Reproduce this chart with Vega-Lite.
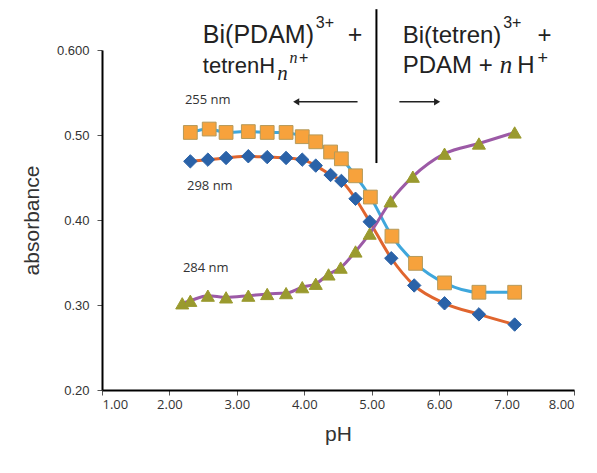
{
  "$schema": "https://vega.github.io/schema/vega-lite/v6.json",
  "width": 472,
  "height": 340,
  "autosize": {"type": "none"},
  "padding": {"left": 102, "top": 50, "right": 23, "bottom": 83},
  "background": "white",
  "config": {"view": {"stroke": null}, "font": "Liberation Sans"},
  "datasets": {
    "abs": [
      {"pH": 2.31, "A": 0.503, "s": "255 nm"},
      {"pH": 2.59, "A": 0.507, "s": "255 nm"},
      {"pH": 2.84, "A": 0.503, "s": "255 nm"},
      {"pH": 3.17, "A": 0.504, "s": "255 nm"},
      {"pH": 3.45, "A": 0.503, "s": "255 nm"},
      {"pH": 3.73, "A": 0.503, "s": "255 nm"},
      {"pH": 3.97, "A": 0.498, "s": "255 nm"},
      {"pH": 4.17, "A": 0.492, "s": "255 nm"},
      {"pH": 4.39, "A": 0.480, "s": "255 nm"},
      {"pH": 4.55, "A": 0.472, "s": "255 nm"},
      {"pH": 4.76, "A": 0.452, "s": "255 nm"},
      {"pH": 4.98, "A": 0.427, "s": "255 nm"},
      {"pH": 5.30, "A": 0.381, "s": "255 nm"},
      {"pH": 5.65, "A": 0.349, "s": "255 nm"},
      {"pH": 6.08, "A": 0.326, "s": "255 nm"},
      {"pH": 6.59, "A": 0.315, "s": "255 nm"},
      {"pH": 7.12, "A": 0.315, "s": "255 nm"},
      {"pH": 2.31, "A": 0.469, "s": "298 nm"},
      {"pH": 2.57, "A": 0.471, "s": "298 nm"},
      {"pH": 2.84, "A": 0.473, "s": "298 nm"},
      {"pH": 3.17, "A": 0.475, "s": "298 nm"},
      {"pH": 3.45, "A": 0.474, "s": "298 nm"},
      {"pH": 3.73, "A": 0.473, "s": "298 nm"},
      {"pH": 3.97, "A": 0.471, "s": "298 nm"},
      {"pH": 4.17, "A": 0.464, "s": "298 nm"},
      {"pH": 4.39, "A": 0.453, "s": "298 nm"},
      {"pH": 4.55, "A": 0.446, "s": "298 nm"},
      {"pH": 4.76, "A": 0.425, "s": "298 nm"},
      {"pH": 4.97, "A": 0.398, "s": "298 nm"},
      {"pH": 5.29, "A": 0.355, "s": "298 nm"},
      {"pH": 5.63, "A": 0.323, "s": "298 nm"},
      {"pH": 6.08, "A": 0.302, "s": "298 nm"},
      {"pH": 6.59, "A": 0.289, "s": "298 nm"},
      {"pH": 7.12, "A": 0.277, "s": "298 nm"},
      {"pH": 2.19, "A": 0.302, "s": "284 nm"},
      {"pH": 2.31, "A": 0.305, "s": "284 nm"},
      {"pH": 2.57, "A": 0.311, "s": "284 nm"},
      {"pH": 2.84, "A": 0.309, "s": "284 nm"},
      {"pH": 3.17, "A": 0.311, "s": "284 nm"},
      {"pH": 3.45, "A": 0.313, "s": "284 nm"},
      {"pH": 3.73, "A": 0.314, "s": "284 nm"},
      {"pH": 3.97, "A": 0.321, "s": "284 nm"},
      {"pH": 4.17, "A": 0.325, "s": "284 nm"},
      {"pH": 4.36, "A": 0.336, "s": "284 nm"},
      {"pH": 4.54, "A": 0.344, "s": "284 nm"},
      {"pH": 4.76, "A": 0.363, "s": "284 nm"},
      {"pH": 4.97, "A": 0.384, "s": "284 nm"},
      {"pH": 5.28, "A": 0.422, "s": "284 nm"},
      {"pH": 5.61, "A": 0.451, "s": "284 nm"},
      {"pH": 6.08, "A": 0.478, "s": "284 nm"},
      {"pH": 6.59, "A": 0.490, "s": "284 nm"},
      {"pH": 7.12, "A": 0.503, "s": "284 nm"}
    ],
    "labels": [
      {"pH": 2.23, "A": 0.541, "t": "255 nm"},
      {"pH": 2.26, "A": 0.440, "t": "298 nm"},
      {"pH": 2.20, "A": 0.3435, "t": "284 nm"}
    ],
    "one": [{}]
  },
  "layer": [
    {
      "data": {"name": "abs"},
      "mark": {"type": "line", "interpolate": "monotone", "strokeWidth": 3},
      "encoding": {
        "x": {"field": "pH", "type": "quantitative",
          "scale": {"domain": [1, 8], "nice": false, "zero": false},
          "axis": {"values": [1, 2, 3, 4, 5, 6, 7, 8], "format": ".2f", "title": "pH",
            "domainColor": "#000", "domainWidth": 2, "tickColor": "#555", "tickSize": 5, "tickWidth": 1,
            "grid": false, "labelFont": "Open Sans", "labelFontSize": 13, "labelColor": "#333", "labelPadding": 3,
            "titleFont": "Liberation Sans", "titleFontSize": 21, "titleFontWeight": "normal", "titleColor": "#333", "titlePadding": 12}},
        "y": {"field": "A", "type": "quantitative",
          "scale": {"domain": [0.2, 0.6], "nice": false, "zero": false},
          "axis": {"values": [0.2, 0.3, 0.4, 0.5, 0.6], "labelExpr": "datum.value >= 0.6 ? '0.600' : format(datum.value, '.2f')", "title": "absorbance",
            "domainColor": "#000", "domainWidth": 2, "tickColor": "#555", "tickSize": 5, "tickWidth": 1,
            "grid": false, "labelFont": "Liberation Sans", "labelFontSize": 13, "labelColor": "#333", "labelPadding": 8,
            "titleFont": "Liberation Sans", "titleFontSize": 21, "titleFontWeight": "normal", "titleColor": "#333", "titlePadding": 14}},
        "color": {"field": "s", "type": "nominal",
          "scale": {"domain": ["255 nm", "298 nm", "284 nm"], "range": ["#3fa7dc", "#e0652e", "#9c5aa6"]}, "legend": null},
        "detail": {"field": "s"}
      }
    },
    {
      "data": {"name": "abs"},
      "mark": {"type": "point", "filled": true, "opacity": 1, "strokeWidth": 1},
      "encoding": {
        "x": {"field": "pH", "type": "quantitative"},
        "y": {"field": "A", "type": "quantitative"},
        "shape": {"field": "s", "type": "nominal",
          "scale": {"domain": ["255 nm", "298 nm", "284 nm"], "range": ["square", "diamond", "triangle-up"]}, "legend": null},
        "fill": {"field": "s", "type": "nominal",
          "scale": {"domain": ["255 nm", "298 nm", "284 nm"], "range": ["#f7a23c", "#2a62a8", "#9a9a2e"]}, "legend": null},
        "stroke": {"field": "s", "type": "nominal",
          "scale": {"domain": ["255 nm", "298 nm", "284 nm"], "range": ["#b59a5a", "#2a62a8", "#9a9a2e"]}, "legend": null},
        "size": {"field": "s", "type": "nominal",
          "scale": {"domain": ["255 nm", "298 nm", "284 nm"], "range": [190, 170, 160]}, "legend": null}
      }
    },
    {
      "data": {"name": "labels"},
      "mark": {"type": "text", "align": "left", "baseline": "middle", "font": "Open Sans", "fontSize": 13, "color": "#333"},
      "encoding": {
        "x": {"field": "pH", "type": "quantitative"},
        "y": {"field": "A", "type": "quantitative"},
        "text": {"field": "t"}
      }
    },
    {
      "data": {"name": "one"},
      "mark": {"type": "rule", "color": "#000", "strokeWidth": 2, "clip": false},
      "encoding": {"x": {"datum": 5.07}, "y": {"datum": 0.648}, "y2": {"datum": 0.467}}
    },
    {
      "data": {"name": "one"},
      "mark": {"type": "rule", "color": "#222", "strokeWidth": 1.5},
      "encoding": {"x": {"datum": 3.9}, "x2": {"datum": 4.79}, "y": {"datum": 0.539}}
    },
    {
      "data": {"name": "one"},
      "mark": {"type": "rule", "color": "#222", "strokeWidth": 1.5},
      "encoding": {"x": {"datum": 5.41}, "x2": {"datum": 5.95}, "y": {"datum": 0.539}}
    },
    {
      "data": {"name": "one"},
      "mark": {"type": "point", "shape": "triangle-left", "filled": true, "color": "#222", "size": 50, "opacity": 1},
      "encoding": {"x": {"datum": 3.88}, "y": {"datum": 0.539}}
    },
    {
      "data": {"name": "one"},
      "mark": {"type": "point", "shape": "triangle-right", "filled": true, "color": "#222", "size": 50, "opacity": 1},
      "encoding": {"x": {"datum": 5.97}, "y": {"datum": 0.539}}
    },
    {
      "data": {"name": "one"},
      "mark": {"type": "text", "align": "left", "baseline": "alphabetic", "fontSize": 25, "color": "#222", "text": "Bi(PDAM)"},
      "encoding": {"x": {"datum": 2.496}, "y": {"datum": 0.608}}
    },
    {
      "data": {"name": "one"},
      "mark": {"type": "text", "align": "left", "baseline": "alphabetic", "fontSize": 16, "color": "#222", "text": "3+"},
      "encoding": {"x": {"datum": 4.17}, "y": {"datum": 0.626}}
    },
    {
      "data": {"name": "one"},
      "mark": {"type": "text", "align": "left", "baseline": "alphabetic", "fontSize": 25, "color": "#222", "text": "+"},
      "encoding": {"x": {"datum": 4.644}, "y": {"datum": 0.608}}
    },
    {
      "data": {"name": "one"},
      "mark": {"type": "text", "align": "left", "baseline": "alphabetic", "fontSize": 22, "color": "#222", "text": "tetrenH"},
      "encoding": {"x": {"datum": 2.496}, "y": {"datum": 0.573}}
    },
    {
      "data": {"name": "one"},
      "mark": {"type": "text", "align": "left", "baseline": "alphabetic", "fontSize": 21, "font": "Liberation Serif", "fontStyle": "italic", "color": "#222", "text": "n"},
      "encoding": {"x": {"datum": 3.6}, "y": {"datum": 0.5647}}
    },
    {
      "data": {"name": "one"},
      "mark": {"type": "text", "align": "left", "baseline": "alphabetic", "fontSize": 16, "font": "Liberation Serif", "fontStyle": "italic", "color": "#222", "text": "n"},
      "encoding": {"x": {"datum": 3.78}, "y": {"datum": 0.5845}}
    },
    {
      "data": {"name": "one"},
      "mark": {"type": "text", "align": "left", "baseline": "alphabetic", "fontSize": 16, "color": "#222", "text": "+"},
      "encoding": {"x": {"datum": 3.92}, "y": {"datum": 0.5845}}
    },
    {
      "data": {"name": "one"},
      "mark": {"type": "text", "align": "left", "baseline": "alphabetic", "fontSize": 24, "color": "#222", "text": "Bi(tetren)"},
      "encoding": {"x": {"datum": 5.459}, "y": {"datum": 0.608}}
    },
    {
      "data": {"name": "one"},
      "mark": {"type": "text", "align": "left", "baseline": "alphabetic", "fontSize": 16, "color": "#222", "text": "3+"},
      "encoding": {"x": {"datum": 6.95}, "y": {"datum": 0.626}}
    },
    {
      "data": {"name": "one"},
      "mark": {"type": "text", "align": "left", "baseline": "alphabetic", "fontSize": 24, "color": "#222", "text": "+"},
      "encoding": {"x": {"datum": 7.46}, "y": {"datum": 0.608}}
    },
    {
      "data": {"name": "one"},
      "mark": {"type": "text", "align": "left", "baseline": "alphabetic", "fontSize": 24, "color": "#222", "text": "PDAM +"},
      "encoding": {"x": {"datum": 5.459}, "y": {"datum": 0.573}}
    },
    {
      "data": {"name": "one"},
      "mark": {"type": "text", "align": "left", "baseline": "alphabetic", "fontSize": 25, "font": "Liberation Serif", "fontStyle": "italic", "color": "#222", "text": "n"},
      "encoding": {"x": {"datum": 6.9}, "y": {"datum": 0.573}}
    },
    {
      "data": {"name": "one"},
      "mark": {"type": "text", "align": "left", "baseline": "alphabetic", "fontSize": 24, "color": "#222", "text": "H"},
      "encoding": {"x": {"datum": 7.16}, "y": {"datum": 0.573}}
    },
    {
      "data": {"name": "one"},
      "mark": {"type": "text", "align": "left", "baseline": "alphabetic", "fontSize": 18, "color": "#222", "text": "+"},
      "encoding": {"x": {"datum": 7.46}, "y": {"datum": 0.5835}}
    }
  ]
}
